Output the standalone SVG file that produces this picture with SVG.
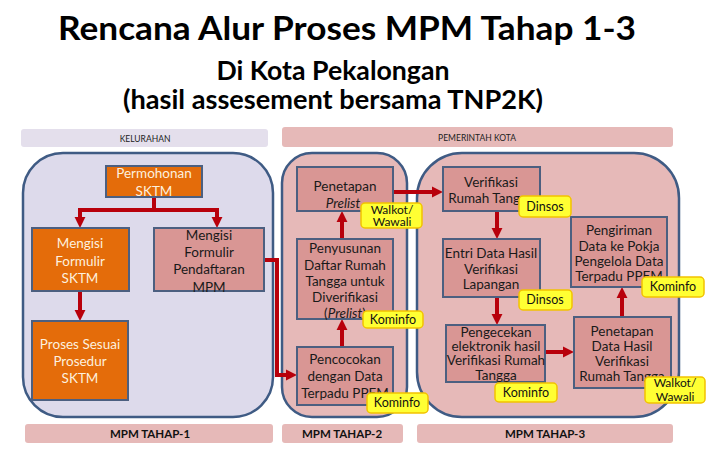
<svg xmlns="http://www.w3.org/2000/svg" width="720" height="450" viewBox="0 0 720 450">
<style>
text{font-family:Lato,"Liberation Sans",sans-serif;text-anchor:middle}
.title{font-weight:bold;fill:#000}
.cont{stroke:#3f5b84;stroke-width:2.5}
.box{stroke:#4c5f80;stroke-width:2}
.or{fill:#e46c0a}
.pk{fill:#d99694}
.t{font-size:13.5px;fill:#1a1a1a}
.to{font-size:13.5px;fill:#fdf0df}
.tag{fill:#ffff33;stroke:#f2c200;stroke-width:1.5}
.tt{font-size:12.5px;fill:#111}
.tt2{font-size:12px;fill:#111}
.band{font-size:8.5px;fill:#222}
.bandb{font-size:11.5px;font-weight:bold;fill:#111}
.arr{fill:none;stroke:#b8000b;stroke-width:4;marker-end:url(#ah)}
</style>
<defs>
<marker id="ah" viewBox="0 0 10 10" refX="1" refY="5" markerWidth="11" markerHeight="12" markerUnits="userSpaceOnUse" orient="auto">
<path d="M0,0 L10,5 L0,10 z" fill="#b8000b"/>
</marker>
</defs>
<rect width="720" height="450" fill="#fff"/>
<g id="titles">
<text class="title" x="347" y="40" font-size="32" textLength="578" lengthAdjust="spacingAndGlyphs">Rencana Alur Proses MPM Tahap 1-3</text>
<text class="title" x="333" y="80" font-size="27" textLength="233" lengthAdjust="spacingAndGlyphs">Di Kota Pekalongan</text>
<text class="title" x="333" y="109" font-size="27" textLength="420" lengthAdjust="spacingAndGlyphs">(hasil assesement bersama TNP2K)</text>
</g>
<g id="bands">
<rect x="21" y="129" width="247" height="18" rx="3" fill="#e4dfec"/>
<text class="band" x="145" y="142">KELURAHAN</text>
<rect x="282" y="127" width="391" height="20" rx="3" fill="#e6b9b8"/>
<text class="band" x="477" y="141">PEMERINTAH KOTA</text>
<rect x="25" y="424" width="248" height="19" rx="3" fill="#e6b9b8"/>
<text class="bandb" x="150" y="438">MPM TAHAP-1</text>
<rect x="282" y="424" width="121" height="19" rx="3" fill="#e6b9b8"/>
<text class="bandb" x="342" y="438">MPM TAHAP-2</text>
<rect x="417" y="424" width="256" height="19" rx="3" fill="#e6b9b8"/>
<text class="bandb" x="545" y="438">MPM TAHAP-3</text>
</g>
<g id="containers">
<rect class="cont" x="23" y="153" width="250" height="264" rx="40" fill="#dddaeb"/>
<rect class="cont" x="282" y="153" width="125" height="264" rx="30" fill="#e6b9b8"/>
<rect class="cont" x="417" y="153" width="262" height="264" rx="45" fill="#e6b9b8"/>
</g>
<g id="connectors">
<path class="arr" d="M154 197 V210 H80 V218"/>
<path class="arr" d="M154 210 H217 V218"/>
<path class="arr" d="M80 291 V311"/>
<path class="arr" d="M264 260 H277 V375 H287"/>
<path class="arr" d="M342 347 V329"/>
<path class="arr" d="M342 239 V221"/>
<path class="arr" d="M393 192 H433"/>
<path class="arr" d="M497 211 V229"/>
<path class="arr" d="M497 297 V315"/>
<path class="arr" d="M545 352 H564"/>
<path class="arr" d="M622 317 V297"/>
</g>
<g id="permohonan">
<rect class="box or" x="106" y="166" width="96" height="31"/>
<text class="to" x="154" y="178">Permohonan</text>
<text class="to" x="154" y="196">SKTM</text>
</g>
<g id="mengisi-sktm">
<rect class="box or" x="32" y="228" width="97" height="63"/>
<text class="to" x="80" y="248">Mengisi</text>
<text class="to" x="80" y="266">Formulir</text>
<text class="to" x="80" y="283">SKTM</text>
</g>
<g id="mengisi-mpm">
<rect class="box pk" x="154" y="228" width="110" height="63"/>
<text class="t" x="209" y="240">Mengisi</text>
<text class="t" x="209" y="257">Formulir</text>
<text class="t" x="209" y="274">Pendaftaran</text>
<text class="t" x="209" y="292">MPM</text>
</g>
<g id="proses-sktm">
<rect class="box or" x="32" y="321" width="96" height="79"/>
<text class="to" x="80" y="349">Proses Sesuai</text>
<text class="to" x="80" y="366">Prosedur</text>
<text class="to" x="80" y="383">SKTM</text>
</g>
<g id="penetapan-prelist">
<rect class="box pk" x="297" y="167" width="96" height="44"/>
<text class="t" x="345" y="191">Penetapan</text>
<text class="t" x="343" y="208" font-style="italic">Prelist</text>
</g>
<g id="penyusunan">
<rect class="box pk" x="297" y="239" width="96" height="80"/>
<text class="t" x="345" y="253">Penyusunan</text>
<text class="t" x="345" y="270">Daftar Rumah</text>
<text class="t" x="345" y="286">Tangga untuk</text>
<text class="t" x="345" y="302">Diverifikasi</text>
<text class="t" x="345" y="318">(<tspan font-style="italic">Prelist</tspan>)</text>
</g>
<g id="pencocokan">
<rect class="box pk" x="297" y="347" width="96" height="58"/>
<text class="t" x="345" y="364">Pencocokan</text>
<text class="t" x="345" y="381">dengan Data</text>
<text class="t" x="345" y="398">Terpadu PPEM</text>
</g>
<g id="verifikasi-rt">
<rect class="box pk" x="443" y="167" width="97" height="44"/>
<text class="t" x="491" y="187">Verifikasi</text>
<text class="t" x="491" y="203">Rumah Tangga</text>
</g>
<g id="entri-data">
<rect class="box pk" x="443" y="239" width="97" height="58"/>
<text class="t" x="491" y="258">Entri Data Hasil</text>
<text class="t" x="491" y="274">Verifikasi</text>
<text class="t" x="491" y="289">Lapangan</text>
</g>
<g id="pengecekan">
<rect class="box pk" x="446" y="325" width="99" height="57"/>
<text class="t" x="496" y="337" font-size="12.5">Pengecekan</text>
<text class="t" x="496" y="351" font-size="12.5">elektronik hasil</text>
<text class="t" x="496" y="365" font-size="12.5">Verifikasi Rumah</text>
<text class="t" x="496" y="380" font-size="12.5">Tangga</text>
</g>
<g id="penetapan-data">
<rect class="box pk" x="574" y="317" width="97" height="71"/>
<text class="t" x="622" y="336">Penetapan</text>
<text class="t" x="622" y="351">Data Hasil</text>
<text class="t" x="622" y="366">Verifikasi</text>
<text class="t" x="622" y="381">Rumah Tangga</text>
</g>
<g id="pengiriman">
<rect class="box pk" x="571" y="217" width="96" height="70"/>
<text class="t" x="619" y="235">Pengiriman</text>
<text class="t" x="619" y="251">Data ke Pokja</text>
<text class="t" x="619" y="266">Pengelola Data</text>
<text class="t" x="619" y="281">Terpadu PPEM</text>
</g>
<g id="tags">
<rect class="tag" x="361" y="203" width="61" height="25" rx="4"/>
<text class="tt2" x="392" y="213.5">Walkot/</text>
<text class="tt2" x="392" y="226">Wawali</text>
<rect class="tag" x="363" y="311" width="60" height="17" rx="4"/>
<text class="tt" x="393" y="324">Kominfo</text>
<rect class="tag" x="367" y="393" width="61" height="20" rx="4"/>
<text class="tt" x="397" y="407">Kominfo</text>
<rect class="tag" x="519" y="196" width="52" height="21" rx="4"/>
<text class="tt" x="545" y="211">Dinsos</text>
<rect class="tag" x="519" y="290" width="53" height="20" rx="4"/>
<text class="tt" x="545" y="304">Dinsos</text>
<rect class="tag" x="495" y="383" width="62" height="19" rx="4"/>
<text class="tt" x="526" y="397">Kominfo</text>
<rect class="tag" x="642" y="277" width="62" height="20" rx="4"/>
<text class="tt" x="673" y="291">Kominfo</text>
<rect class="tag" x="645" y="377" width="60" height="26" rx="4"/>
<text class="tt2" x="675" y="387">Walkot/</text>
<text class="tt2" x="675" y="400.5">Wawali</text>
</g>
</svg>
